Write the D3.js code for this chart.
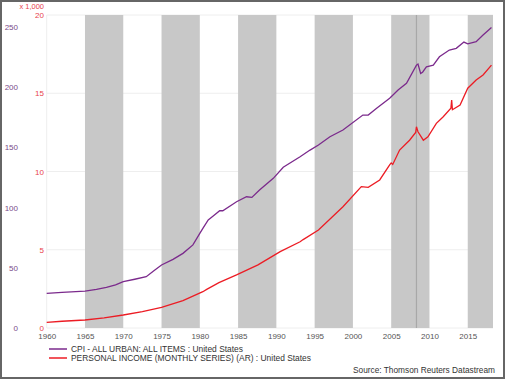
<!DOCTYPE html>
<html>
<head>
<meta charset="utf-8">
<script src="https://cdn.jsdelivr.net/npm/d3@7"></script>
<style>
  html, body { margin: 0; padding: 0; background: #fff; }
  svg { display: block; font-family: "Liberation Sans", Arial, sans-serif; }
</style>
</head>
<body>
<svg id="chart" width="505" height="379"></svg>
<script>
// ---- data ----
const cpiDates = [1960, 1962, 1965, 1966.5, 1967.8, 1969, 1970, 1971.5, 1973, 1974, 1975, 1976.5, 1977.8, 1979.1, 1980, 1980.4, 1981.1, 1981.75, 1982.6, 1983, 1984.8, 1986.1, 1986.8, 1987.8, 1989.6, 1990.9, 1993.1, 1994.4, 1995.5, 1997, 1998.7, 2001.3, 2002, 2003.1, 2004.8, 2005.9, 2007, 2008.3, 2008.5, 2008.85, 2009.1, 2009.6, 2010.5, 2011.3, 2012.6, 2013.5, 2014.5, 2015, 2016.1, 2017, 2018.1];
const cpiValues = [28.8, 29.6, 30.7, 32.0, 33.8, 35.8, 38.5, 40.5, 42.6, 47.5, 52.3, 57.0, 62.0, 69.0, 78.6, 82.8, 89.7, 93.0, 97.4, 97.4, 104.9, 109.0, 108.5, 114.6, 124.3, 133.5, 142.3, 147.8, 152.0, 158.9, 164.5, 176.9, 176.9, 182.5, 190.8, 197.7, 203.2, 218.4, 219.3, 211.5, 212.5, 217.0, 218.4, 225.3, 230.9, 232.3, 237.5, 236.0, 237.8, 243.4, 249.7];

const incDates = [1960, 1962, 1965, 1967.5, 1970, 1972.5, 1975, 1977.8, 1980.4, 1980.9, 1982.5, 1984.8, 1987.6, 1990.5, 1993.1, 1993.5, 1995.5, 1998.7, 2001.1, 2002, 2003.5, 2004.8, 2005.0, 2005.2, 2006.1, 2007.4, 2008.2, 2008.3, 2008.5, 2009.2, 2009.8, 2010.9, 2011.8, 2012.8, 2012.9, 2013.0, 2014, 2015, 2016.1, 2017, 2018.1];
const incValues = [0.36, 0.43, 0.51, 0.65, 0.83, 1.05, 1.32, 1.75, 2.32, 2.47, 2.90, 3.39, 4.03, 4.88, 5.51, 5.65, 6.26, 7.75, 9.03, 8.99, 9.46, 10.42, 10.55, 10.45, 11.37, 12.00, 12.50, 12.86, 12.54, 12.00, 12.22, 13.08, 13.50, 14.04, 14.57, 13.95, 14.25, 15.32, 15.85, 16.17, 16.80];

const bandStarts = [1965, 1975, 1985, 1995, 2005, 2015];
const bandEnds   = [1970, 1980, 1990, 2000, 2010, 2018.3];
const eventYear = 2008.3;

const xTicks = [1960, 1965, 1970, 1975, 1980, 1985, 1990, 1995, 2000, 2005, 2010, 2015];
const cpiTicks = [0, 50, 100, 150, 200, 250];
const incTicks = [0, 5, 10, 15, 20];

const seriesNames = ["CPI - ALL URBAN: ALL ITEMS : United States",
                     "PERSONAL INCOME (MONTHLY SERIES) (AR) : United States"];
const sourceText = "Source: Thomson Reuters Datastream";

// ---- layout ----
const svg = d3.select("#chart");
const W = 505, H = 379;
const pL = 46.7, pR = 493, pT = 15, pB = 328;
const purple = "#7b2a8c", red = "#ec1c24";
const FONT = "Liberation Sans, Arial, sans-serif";

const x = d3.scaleLinear().domain([1960, 2018.3]).range([pL, pR]);
const yC = d3.scaleLinear().domain([0, 260]).range([pB, pT]);
const yI = d3.scaleLinear().domain([0, 20]).range([pB, pT]);

// frame
svg.append("rect").attr("x", 1).attr("y", 1).attr("width", W - 2).attr("height", H - 2)
  .attr("fill", "#fff").attr("stroke", "#666").attr("stroke-width", 2);

// gridlines
svg.append("g").selectAll("line").data(incTicks).join("line")
  .attr("x1", pL).attr("x2", pR)
  .attr("y1", d => yI(d)).attr("y2", d => yI(d))
  .attr("stroke", "#eeeeee").attr("stroke-width", 1);
svg.append("line").attr("x1", pL).attr("x2", pL).attr("y1", pT).attr("y2", pB)
  .attr("stroke", "#eeeeee");

// shaded bands
svg.append("g").selectAll("rect").data(bandStarts).join("rect")
  .attr("x", (d) => x(d))
  .attr("width", (d, i) => x(bandEnds[i]) - x(d))
  .attr("y", pT).attr("height", pB - pT)
  .attr("fill", "#c8c8c8");

// event line
svg.append("line").attr("x1", x(eventYear)).attr("x2", x(eventYear))
  .attr("y1", pT).attr("y2", pB).attr("stroke", "#a8a8a8").attr("stroke-width", 1.2);

// x axis labels
const xAxis = d3.axisBottom(x).tickValues(xTicks).tickFormat(d3.format("d")).tickSize(0).tickPadding(5);
const gx = svg.append("g").attr("transform", `translate(0,${pB})`).call(xAxis);
gx.select(".domain").remove();
gx.selectAll("text").attr("fill", "#555").attr("font-size", 8).attr("font-family", FONT);

// left (CPI) axis labels
const aC = d3.axisLeft(yC).tickValues(cpiTicks).tickSize(0).tickPadding(0);
const gC = svg.append("g").attr("transform", "translate(18,0)").call(aC);
gC.select(".domain").remove();
gC.selectAll("text").attr("fill", "#7a4a8a").attr("font-size", 8).attr("font-family", FONT);

// income axis labels
const aI = d3.axisLeft(yI).tickValues(incTicks).tickSize(0).tickPadding(0);
const gI = svg.append("g").attr("transform", "translate(44,0)").call(aI);
gI.select(".domain").remove();
gI.selectAll("text").attr("fill", "#e8434b").attr("font-size", 8).attr("font-family", FONT);
svg.append("text").attr("x", 44).attr("y", 9).attr("text-anchor", "end")
  .attr("font-size", 7.5).attr("fill", "#e8434b").attr("font-family", FONT).text("x 1,000");

// lines
const cpiData = cpiDates.map((d, i) => [d, cpiValues[i]]);
const incData = incDates.map((d, i) => [d, incValues[i]]);
svg.append("path").datum(incData)
  .attr("d", d3.line().x(d => x(d[0])).y(d => yI(d[1])))
  .attr("fill", "none").attr("stroke", red).attr("stroke-width", 1.3);
svg.append("path").datum(cpiData)
  .attr("d", d3.line().x(d => x(d[0])).y(d => yC(d[1])))
  .attr("fill", "none").attr("stroke", purple).attr("stroke-width", 1.3);

// legend
const legColors = [purple, red];
const legWidths = [172, 240];
const leg = svg.append("g");
seriesNames.forEach((name, i) => {
  const yy = 349 + i * 9;
  leg.append("line").attr("x1", 49).attr("x2", 67).attr("y1", yy).attr("y2", yy)
    .attr("stroke", legColors[i]).attr("stroke-width", 1.5);
  leg.append("text").attr("x", 71).attr("y", yy + 3.3).attr("font-size", 9)
    .attr("font-family", FONT)
    .attr("textLength", legWidths[i]).attr("lengthAdjust", "spacingAndGlyphs")
    .attr("fill", "#333").text(name);
});
svg.append("text").attr("x", 495).attr("y", 373).attr("text-anchor", "end")
  .attr("font-size", 8.8).attr("font-family", FONT)
  .attr("textLength", 142).attr("lengthAdjust", "spacingAndGlyphs")
  .attr("fill", "#333").text(sourceText);
</script>
</body>
</html>
